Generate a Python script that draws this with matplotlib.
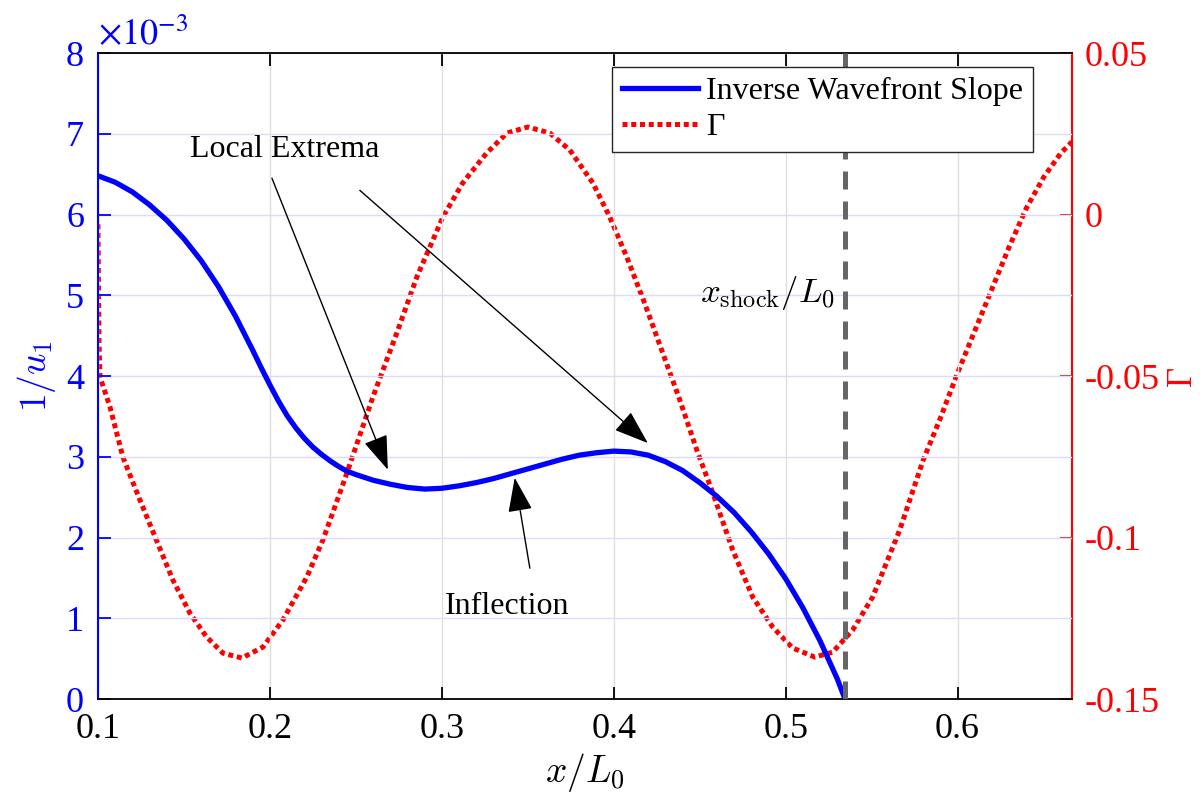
import numpy as np
import matplotlib
matplotlib.use("Agg")
from matplotlib import pyplot as plt

plt.rcParams['font.family'] = ['Liberation Serif', 'DejaVu Serif']
plt.rcParams['mathtext.fontset'] = 'cm'
plt.rcParams['axes.unicode_minus'] = False

# inverse wavefront slope 1/u1, in units of 1e-3
x_blue = [0.100, 0.110, 0.120, 0.130, 0.140, 0.150, 0.160, 0.170, 0.180, 0.190,
          0.195, 0.200, 0.205, 0.210, 0.215, 0.220, 0.225, 0.230, 0.235, 0.240,
          0.245, 0.250, 0.260, 0.270, 0.280, 0.290, 0.300, 0.310, 0.320, 0.330,
          0.340, 0.350, 0.360, 0.370, 0.380, 0.390, 0.400, 0.410, 0.420, 0.430,
          0.440, 0.450, 0.460, 0.470, 0.480, 0.490, 0.500, 0.510, 0.520, 0.530, 0.5345]
inv_slope = [6.48, 6.40, 6.28, 6.12, 5.93, 5.70, 5.43, 5.11, 4.74, 4.32,
             4.10, 3.89, 3.69, 3.51, 3.36, 3.23, 3.12, 3.03, 2.95, 2.88,
             2.82, 2.78, 2.71, 2.66, 2.62, 2.60, 2.61, 2.64, 2.68, 2.73,
             2.79, 2.85, 2.91, 2.97, 3.02, 3.05, 3.07, 3.06, 3.02, 2.94,
             2.83, 2.68, 2.51, 2.31, 2.07, 1.80, 1.49, 1.13, 0.72, 0.25, 0.0]

# Gamma
x_red = [0.100, 0.1006, 0.1012, 0.107, 0.1145, 0.1244, 0.134, 0.1436, 0.1535, 0.1632,
         0.1727, 0.1837, 0.196, 0.2076, 0.2215, 0.2308, 0.2407, 0.2448, 0.2599, 0.2738,
         0.2855, 0.293, 0.3006, 0.3122, 0.326, 0.3378, 0.350, 0.3628, 0.3744, 0.3878,
         0.3977, 0.4076, 0.418, 0.4285, 0.4384, 0.4483, 0.4576, 0.4692, 0.4808, 0.4924,
         0.504, 0.5169, 0.5273, 0.539, 0.5506, 0.5663, 0.580, 0.590, 0.600, 0.610,
         0.620, 0.630, 0.640, 0.650, 0.660, 0.6665]
gamma = [-0.003, -0.040, -0.0503, -0.0596, -0.0751, -0.0884, -0.1008, -0.1132, -0.1234, -0.1308,
         -0.1358, -0.1373, -0.1339, -0.1255, -0.1122, -0.1008, -0.0862, -0.0800, -0.0565, -0.0367,
         -0.0193, -0.0101, -0.0008, 0.0098, 0.0190, 0.0252, 0.0271, 0.0252, 0.0200, 0.0098,
         -0.0008, -0.0132, -0.0275, -0.0429, -0.0574, -0.0729, -0.0862, -0.1039, -0.1184, -0.1277,
         -0.1342, -0.1370, -0.1355, -0.1286, -0.1184, -0.0977, -0.0760, -0.0630, -0.0490, -0.0360,
         -0.0230, -0.0100, 0.0020, 0.0115, 0.0190, 0.0225]

x_shock = 0.5345
left_ticks = [0, 1, 2, 3, 4, 5, 6, 7, 8]
right_ticks = [-0.15, -0.1, -0.05, 0, 0.05]
right_labels = ['-0.15', '-0.1', '-0.05', '0', '0.05']
x_ticks = [0.1, 0.2, 0.3, 0.4, 0.5, 0.6]

fig = plt.figure(figsize=(12.02, 8.01), dpi=100)
ax = fig.add_axes([0.0815, 0.1273, 0.8103, 0.8065])
ax2 = ax.twinx()
ax.set_zorder(ax2.get_zorder() + 1)
ax.patch.set_visible(False)

red_line, = ax2.plot(x_red, gamma, color='red', lw=3.6, linestyle=(0, (1, 0.75)),
                     dash_capstyle='butt', label='Γ')
blue_line, = ax.plot(x_blue, inv_slope, color='blue', lw=3.8, label='Inverse Wavefront Slope')
ax.axvline(x_shock, color='0.4', lw=3.6, linestyle=(0, (3.6, 2.4)), zorder=3)

ax.set_xlim(0.1, 0.6665)
ax.set_ylim(0, 8)
ax2.set_ylim(-0.15, 0.05)
ax.set_xticks(x_ticks)
ax.set_xticklabels([str(t) for t in x_ticks])
ax.set_yticks(left_ticks)
ax2.set_yticks(right_ticks)
ax2.set_yticklabels(right_labels)

# grid: vertical gray, horizontal bluish
ax.set_axisbelow(True)
ax.xaxis.grid(True, color='0.87', lw=1)
ax.yaxis.grid(True, color=(0.86, 0.86, 1.0), lw=1)

ax.tick_params(axis='x', direction='in', top=True, length=9, width=1.3, labelsize=26, pad=10)
ax.tick_params(axis='y', direction='in', length=9, width=1.3, colors='blue', labelsize=26, pad=10)
ax2.tick_params(axis='y', direction='in', length=9, width=1.3, colors='red', labelsize=26, pad=9)

for s in ['top', 'bottom']:
    ax.spines[s].set_linewidth(1.3)
ax.spines['left'].set_color('blue')
ax.spines['left'].set_linewidth(1.5)
ax.spines['right'].set_visible(False)
ax2.spines['left'].set_visible(False)
ax2.spines['top'].set_visible(False)
ax2.spines['bottom'].set_visible(False)
ax2.spines['right'].set_color('red')
ax2.spines['right'].set_linewidth(1.5)

ax.set_xlabel('$x/L_0$', fontsize=27, labelpad=4)
ax.set_ylabel('$1/u_1$', fontsize=27, color='blue', labelpad=6)
ax2.set_ylabel('Γ', fontsize=25, color='red')
ax2.yaxis.set_label_coords(1.097, 0.5)

ax.text(0.0, 1.0, r'$\times10^{-3}$', transform=ax.transAxes, color='blue',
        fontsize=26, math_fontfamily='stix', ha='left', va='bottom')

arrow = dict(arrowstyle='-|>,head_length=0.9,head_width=0.32', mutation_scale=24,
             color='black', lw=1, shrinkA=0, shrinkB=0)
ax.text(0.1535, 6.80, 'Local Extrema', fontsize=23, va='center', ha='left')
ax.annotate('', xy=(0.2686, 2.84), xytext=(0.2012, 6.45), arrowprops=arrow)
ax.annotate('', xy=(0.4198, 3.17), xytext=(0.2523, 6.30), arrowprops=arrow)
ax.text(0.3017, 1.14, 'Inflection', fontsize=23, va='center', ha='left')
ax.annotate('', xy=(0.3424, 2.74), xytext=(0.3512, 1.62), arrowprops=arrow)
ax.text(0.5285, 5.03, r'$x_{\rm shock}/L_0$', fontsize=25, ha='right', va='center')

leg = ax.legend(handles=[blue_line, red_line], loc='upper right', bbox_to_anchor=(0.96, 0.978),
                borderaxespad=0, fontsize=23, fancybox=False, framealpha=1,
                edgecolor='0.15', handlelength=2.4, handletextpad=0.25,
                labelspacing=0.2, borderpad=0.3)
leg.get_frame().set_linewidth(1.0)

fig.savefig('out.png', dpi=100)
